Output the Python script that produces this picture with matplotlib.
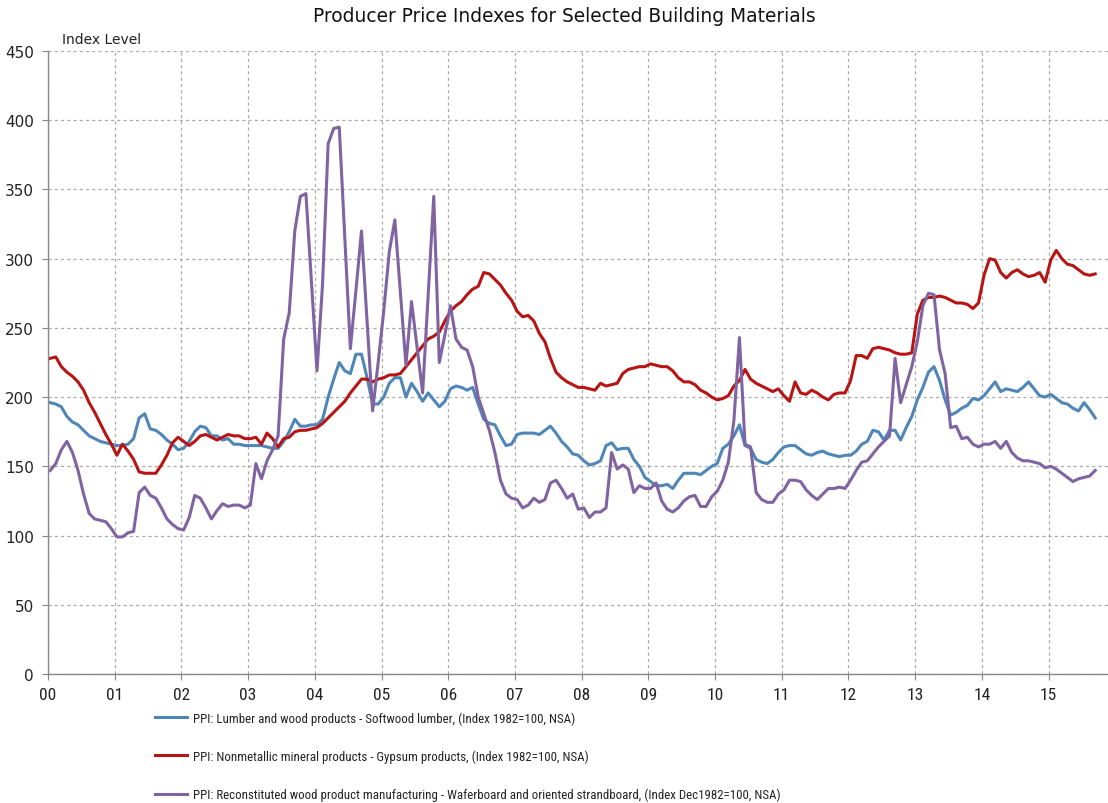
import numpy as np
import matplotlib
matplotlib.use("Agg")
import matplotlib.pyplot as plt
from matplotlib import font_manager as fm

title = "Producer Price Indexes for Selected Building Materials"
y_label = "Index Level"
year_labels = ["00", "01", "02", "03", "04", "05", "06", "07", "08", "09",
               "10", "11", "12", "13", "14", "15"]
series_names = [
    "PPI: Lumber and wood products - Softwood lumber, (Index 1982=100, NSA)",
    "PPI: Nonmetallic mineral products - Gypsum products, (Index 1982=100, NSA)",
    "PPI: Reconstituted wood product manufacturing - Waferboard and oriented strandboard, (Index Dec1982=100, NSA)",
]

# Monthly values, Jan 2000 - Sep 2015
softwood_lumber = [
    196, 195, 193, 186, 182, 180, 176, 172, 170, 168, 167, 166,
    165, 165, 166, 170, 185, 188, 177, 176, 173, 169, 166, 162,
    163, 168, 175, 179, 178, 172, 172, 169, 170, 166, 166, 165,
    165, 165, 165, 164, 163, 163, 168, 175, 184, 179, 179, 180,
    180, 184, 200, 213, 225, 219, 217, 231, 231, 214, 195, 195,
    200, 210, 214, 214, 200, 210, 204, 197, 203, 198, 193, 197,
    206, 208, 207, 205, 207, 195, 184, 181, 180, 172, 165, 166,
    173, 174, 174, 174, 173, 176, 179, 174, 168, 164, 159, 158,
    154, 151, 152, 154, 165, 167, 162, 163, 163, 155, 150, 142,
    139, 136, 136, 137, 134, 140, 145, 145, 145, 144, 147, 150,
    152, 163, 166, 172, 180, 165, 163, 155, 153, 152, 155, 160,
    164, 165, 165, 162, 159, 158, 160, 161, 159, 158, 157, 158,
    158, 161, 166, 168, 176, 175, 169, 176, 176, 169, 178, 186,
    198, 207, 218, 222, 212, 198, 187, 189, 192, 194, 199, 198,
    201, 206, 211, 204, 206, 205, 204, 207, 211, 206, 201, 200,
    202, 199, 196, 195, 192, 190, 196, 191, 185,
]
gypsum = [
    228, 229, 222, 218, 215, 211, 205, 196, 189, 181, 173, 166,
    158, 166, 161, 155, 146, 145, 145, 145, 151, 158, 167, 171,
    168, 165, 168, 172, 173, 171, 169, 171, 173, 172, 172, 170,
    170, 171, 166, 174, 170, 164, 170, 171, 175, 176, 176, 177,
    178, 181, 185, 189, 193, 197, 203, 208, 213, 213, 211, 213,
    214, 216, 216, 217, 222, 227, 232, 237, 242, 244, 247, 255,
    262, 266, 269, 274, 278, 280, 290, 289, 285, 281, 275, 270,
    262, 258, 259, 255, 246, 240, 228, 218, 214, 211, 209, 207,
    207, 206, 205, 210, 208, 209, 210, 217, 220, 221, 222, 222,
    224, 223, 222, 222, 219, 214, 211, 211, 209, 205, 203, 200,
    198, 199, 201, 208, 212, 220, 213, 210, 208, 206, 204, 206,
    201, 197, 211, 203, 202, 205, 203, 200, 198, 202, 203, 203,
    212, 230, 230, 228, 235, 236, 235, 234, 232, 231, 231, 232,
    260, 270, 272, 272, 273, 272, 270, 268, 268, 267, 264, 268,
    288, 300, 299, 290, 286, 290, 292, 289, 287, 288, 290, 283,
    299, 306, 300, 296, 295, 292, 289, 288, 289,
]
osb = [
    147, 152, 162, 168, 160, 147, 130, 116, 112, 111, 110, 105,
    99, 99, 102, 103, 131, 135, 129, 127, 120, 112, 108, 105,
    104, 113, 129, 127, 120, 112, 118, 123, 121, 122, 122, 120,
    122, 152, 141, 154, 162, 172, 242, 261, 320, 345, 347, 283,
    219, 282, 383, 394, 395, 315, 235, 277, 320, 255, 190, 225,
    262, 305, 328, 276, 223, 269, 236, 203, 274, 345, 225, 245,
    266, 242, 236, 234, 222, 200, 188, 176, 160, 140, 130, 127,
    126, 120, 122, 127, 124, 126, 138, 140, 134, 127, 130, 119,
    120, 113, 117, 117, 120, 160, 148, 151, 148, 131, 136, 134,
    134, 138, 125, 119, 117, 120, 125, 128, 129, 121, 121, 128,
    132, 140, 153, 183, 243, 166, 164, 131, 126, 124, 124, 130,
    133, 140, 140, 139, 133, 129, 126, 130, 134, 134, 135, 134,
    140, 147, 153, 154, 159, 164, 168, 172, 228, 196, 209, 222,
    240, 266, 275, 274, 234, 217, 178, 179, 170, 171, 166, 164,
    166, 166, 168, 163, 168, 160, 156, 154, 154, 153, 152, 149,
    150, 148, 145, 142, 139, 141, 142, 143, 147,
]

colors = ["#4F86B8", "#B81414", "#8064A2"]

# Narrow font for legend / x labels if available
names = {f.name for f in fm.fontManager.ttflist}
narrow = None
for cand in ["Liberation Sans Narrow", "DejaVu Sans Condensed", "Roboto Condensed",
             "Open Sans Condensed"]:
    if cand in names:
        narrow = cand
        break
if narrow is None:
    narrow_prop = dict(family="DejaVu Sans", stretch="condensed")
else:
    narrow_prop = dict(family=narrow)

W, H = 1108, 804
fig = plt.figure(figsize=(W / 100, H / 100), dpi=100)
ax = fig.add_axes([48 / W, 1 - 675 / H, 1 - 48 / W, (675 - 52) / H])

n = len(softwood_lumber)
t = (np.arange(n) + 0.4) / 12.0

for vals, c, name in zip([softwood_lumber, gypsum, osb], colors, series_names):
    ax.plot(t, vals, color=c, lw=2.2, label=name, solid_joinstyle="round")

ax.set_xlim(0, (W - 48) / 66.7)
ax.set_ylim(0, 450)
ax.set_yticks(np.arange(0, 451, 50))
ax.set_xticks(np.arange(len(year_labels)))

ax.grid(True, which="major", color="#aaaaaa", linestyle=(0, (2.5, 2.5)), linewidth=0.9)
ax.set_axisbelow(True)
for s in ["top", "right"]:
    ax.spines[s].set_visible(False)
for s in ["left", "bottom"]:
    ax.spines[s].set_color("#888888")
    ax.spines[s].set_linewidth(1.0)
ax.tick_params(axis="both", colors="#888888", length=4, labelcolor="#222222")
ax.tick_params(axis="y", pad=6, labelsize=11)
ax.tick_params(axis="x", pad=5)
ax.set_xticklabels(year_labels, fontproperties=fm.FontProperties(size=12.5, **narrow_prop))

fig.text(62 / W, 1 - 40 / H, y_label, fontsize=10, color="#222222",
         va="center", ha="left")
fig.text(564 / W, 1 - 17 / H, title, fontsize=13.4, color="#111111",
         ha="center", va="center")

leg = fig.legend(loc="upper left", bbox_to_anchor=(150 / W, 1 - 707 / H),
                 frameon=False, prop=fm.FontProperties(size=9.3, **narrow_prop),
                 labelspacing=1.92, handlelength=2.5, handletextpad=0.4,
                 borderaxespad=0)
for txt in leg.get_texts():
    txt.set_color("#222222")

fig.savefig("out.png", dpi=100)
